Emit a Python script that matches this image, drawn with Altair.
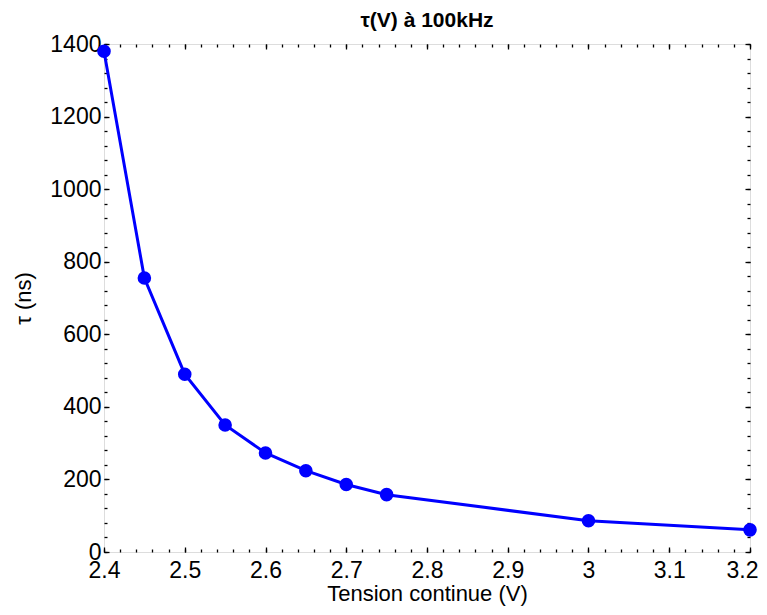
import altair as alt
import pandas as pd

voltage = [2.4, 2.45, 2.5, 2.55, 2.6, 2.65, 2.7, 2.75, 3.0, 3.2]
tau_ns = [1380, 755, 490, 350, 273, 224, 186, 158, 86, 61]

x_major = [2.4, 2.5, 2.6, 2.7, 2.8, 2.9, 3.0, 3.1, 3.2]
x_minor = [round(2.4 + 0.02 * i, 2) for i in range(41)]
y_major = [0, 200, 400, 600, 800, 1000, 1200, 1400]
y_minor = [40 * i for i in range(36)]

df = pd.DataFrame({"V": voltage, "tau": tau_ns})

FONT = "Liberation Sans"
BLUE = "#0000FF"

xscale = alt.Scale(domain=[2.4, 3.2], nice=False, zero=False)
yscale = alt.Scale(domain=[0, 1400], nice=False, zero=False)

def ax(orient, values, size, labels=False, title=None, fmt=None, lp=6, tp=4, tfs=23, **extra):
    kw = dict(orient=orient, values=values, tickSize=size, offset=-size,
              domain=False, grid=False, labels=labels, ticks=True,
              tickColor="black", tickWidth=1.3, labelFlush=False,
              labelOverlap=False, labelFont=FONT, labelFontSize=23,
              labelColor="black", labelPadding=lp, titleFont=FONT,
              titleFontSize=tfs, titleFontWeight="normal", titleColor="black",
              titlePadding=tp)
    kw["title"] = title
    if fmt is not None:
        kw["format"] = fmt
    kw.update(extra)
    return alt.Axis(**kw)

base = alt.Chart(df)

line = base.mark_line(color=BLUE, strokeWidth=3).encode(
    x=alt.X("V:Q", scale=xscale,
            axis=ax("bottom", x_major, 5, labels=True, title="Tension continue (V)",
                    fmt="~g", lp=7, tp=1, tfs=22,
                    labelOffset={"expr": "datum.value >= 3.19 ? -8 : 0"})),
    y=alt.Y("tau:Q", scale=yscale,
            axis=ax("left", y_major, 5, labels=True, title="τ (ns)", fmt="d",
                    lp=3, tp=14, tfs=22)),
)
pts = base.mark_circle(color=BLUE, size=185, opacity=1).encode(
    x=alt.X("V:Q", scale=xscale, axis=None),
    y=alt.Y("tau:Q", scale=yscale, axis=None),
)
minor1 = base.mark_point(opacity=0).encode(
    x=alt.X("V:Q", scale=xscale, axis=ax("bottom", x_minor, 3)),
    y=alt.Y("tau:Q", scale=yscale, axis=ax("left", y_minor, 3)),
)
major2 = base.mark_point(opacity=0).encode(
    x=alt.X("V:Q", scale=xscale, axis=ax("top", x_major, 5)),
    y=alt.Y("tau:Q", scale=yscale, axis=ax("right", y_major, 5)),
)
minor2 = base.mark_point(opacity=0).encode(
    x=alt.X("V:Q", scale=xscale, axis=ax("top", x_minor, 3)),
    y=alt.Y("tau:Q", scale=yscale, axis=ax("right", y_minor, 3)),
)

chart = alt.layer(minor1, major2, minor2, line, pts).resolve_axis(
    x="independent", y="independent"
).properties(
    width=646,
    height=508,
    title=alt.TitleParams("τ(V) à 100kHz", font=FONT, fontSize=21,
                          fontWeight="bold", color="black", offset=2,
                          anchor="middle"),
    autosize=alt.AutoSizeParams(type="none"),
    padding={"left": 96, "top": 36, "right": 9, "bottom": 55},
).configure_view(stroke="black", strokeWidth=1.6).configure(background="white")

chart.save("out.html", embed_options={"renderer": "svg", "actions": False})
